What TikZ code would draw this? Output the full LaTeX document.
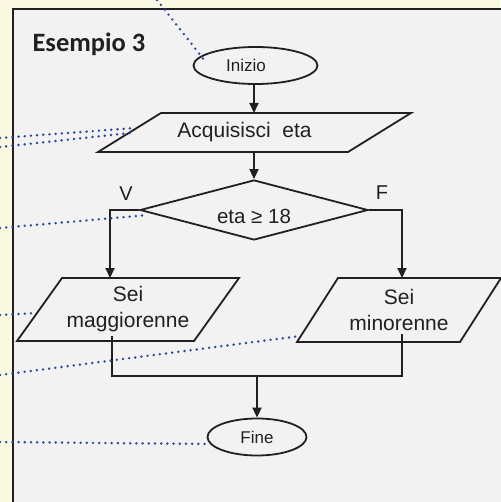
\documentclass[tikz,border=0pt]{standalone}
\usepackage{fontspec}
\setmainfont{Liberation Sans}
\newfontfamily\titlefont{Carlito}
\usetikzlibrary{arrows.meta,shapes.geometric,calc,positioning}

\definecolor{cream}{HTML}{FBF8E1}
\definecolor{panel}{HTML}{F2F2F2}
\definecolor{ink}{HTML}{231F20}
\definecolor{dotblue}{HTML}{2A45A0}

\tikzset{
  flow/.style={draw=ink,line width=1.8pt},
  arr/.style={ink,line width=1.8pt,-{Triangle[length=10pt,width=9pt]}},
  term/.style={ellipse,draw=ink,line width=1.8pt,inner sep=0pt,text=ink,font=\fontsize{17}{20}\selectfont},
  iobox/.style={inner sep=0pt,outer sep=0pt,align=center,text=ink,font=\fontsize{21}{26}\selectfont},
  note/.style={dotblue,line width=2.7pt,line cap=round,dash pattern=on 0pt off 6.2pt},
  lbl/.style={text=ink,font=\fontsize{20}{24}\selectfont}
}

\begin{document}
\begin{tikzpicture}[x=1pt,y=-1pt]
\useasboundingbox (0,0) rectangle (500,502);
\fill[cream] (0,0) rectangle (500,502);
\draw[ink,line width=2.2pt,fill=panel] (13,9) rectangle (520,520);

% title
\node[anchor=base west,text=ink,font=\titlefont\bfseries\fontsize{26.5}{30}\selectfont] (title) at (29,52) {Esempio 3};

% blocks
\node[term,minimum width=124pt,minimum height=37pt] (ini) at (255.5,65.5) {Inizio\hspace*{19pt}};
\node[iobox,minimum width=250pt,minimum height=39pt] (acq) at (254.5,132.5) {Acquisisci\ \ eta\hspace*{20pt}};
\node[diamond,draw=ink,line width=1.8pt,shape aspect=3.8,minimum width=228pt,minimum height=60pt,
      inner sep=0pt,text height=26pt,text depth=0pt,text=ink,font=\fontsize{20.5}{24}\selectfont] (dec) at (254,210) {eta ≥ 18};
\node[iobox,minimum width=177pt,minimum height=63pt] (maj) at (128,309.5) {Sei\\maggiorenne};
\node[iobox,minimum width=163pt,minimum height=64pt] (min) at (399,310) {Sei\\minorenne};
\node[term,minimum width=99pt,minimum height=37pt] (fine) at (257,437) {Fine};

\draw[flow] ($(acq.north west)+(31.5,0)$) -- ($(acq.north east)+(31.5,0)$) -- ($(acq.south east)+(-31.5,0)$) -- ($(acq.south west)+(-31.5,0)$) -- cycle;
\draw[flow] ($(maj.north west)+(22.5,0)$) -- ($(maj.north east)+(22.5,0)$) -- ($(maj.south east)+(-22.5,0)$) -- ($(maj.south west)+(-22.5,0)$) -- cycle;
\draw[flow] ($(min.north west)+(20.5,0)$) -- ($(min.north east)+(20.5,0)$) -- ($(min.south east)+(-20.5,0)$) -- ($(min.south west)+(-20.5,0)$) -- cycle;

% branch labels
\node[lbl] (vlab) at (126,194) {V};
\node[lbl] (flab) at (382,193) {F};

% connectors
\coordinate (join) at (fine.north |- {(0,376)});
\draw[arr] (ini.south -| dec.north) -- (acq.north -| dec.north);
\draw[arr] (acq.south -| dec.north) -- (dec.north);
\draw[arr] (dec.west) -| ($(maj.north)+(-18,0)$);
\draw[arr] (dec.east) -| ($(min.north)+(3,0)$);
\draw[flow] ($(maj.center)+(-16,26.5)$) |- (join);
\draw[flow] ($(min.center)+(3,24)$) |- (join);
\draw[arr] (join) -- (fine.north);

% dotted pointers
\coordinate (p1) at (157,0);
\coordinate (p2) at (0,138);
\coordinate (p3) at (0,147);
\coordinate (p4) at (0,228);
\coordinate (p5) at (0,315);
\coordinate (p6) at (0,375);
\coordinate (p7) at (0,442);
\draw[note] (p1) -- ($(ini.center)+(-50.5,-4.5)$);
\draw[note] (p2) -- ($(acq.center)+(-119.5,-4.5)$);
\draw[note] (p3) -- ($(acq.center)+(-124.5,0.5)$);
\draw[note] (p4) -- ($(dec.center)+(-106,5)$);
\draw[note] (p5) -- ($(maj.center)+(-91,3.5)$);
\draw[note] (p6) -- ($(min.center)+(-99,26)$);
\draw[note] (p7) -- ($(fine.center)+(-47,7)$);
\end{tikzpicture}
\end{document}
